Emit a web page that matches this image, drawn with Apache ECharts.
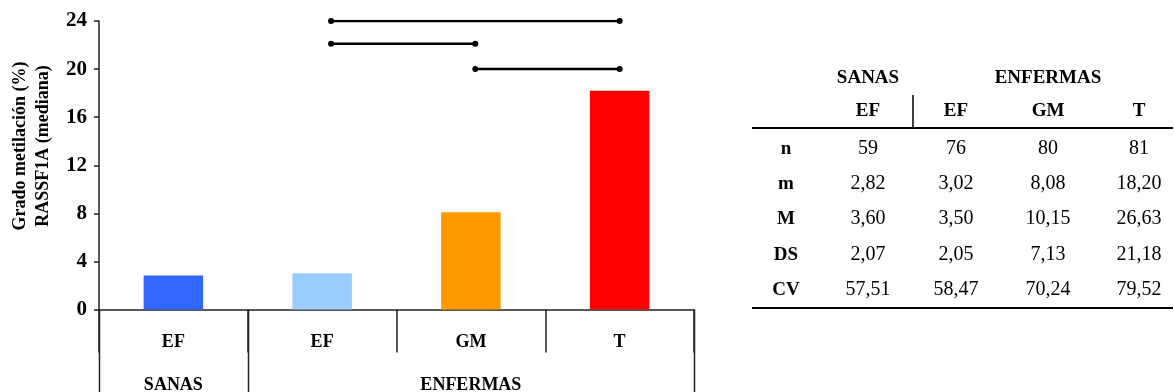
<!DOCTYPE html>
<html>
<head>
<meta charset="utf-8">
<script src="https://cdn.jsdelivr.net/npm/echarts@6/dist/echarts.min.js"></script>
<style>
  html, body { margin: 0; padding: 0; background: #fff; }
  #chart { width: 1174px; height: 392px; }
</style>
</head>
<body>
<div id="chart"></div>
<script>
// Subgroups shown as bars (labels under the axis)
const categories = ['EF', 'EF', 'GM', 'T'];
// Median methylation (%) per subgroup, also the "m" row of the table
const medians = [2.82, 3.02, 8.08, 18.20];
const barColors = ['#3366FF', '#99CCFF', '#FF9900', '#FF0000'];
// Group labels under the subgroups and how many subgroups each spans
const groupNames = ['SANAS', 'ENFERMAS'];
const groupSpans = [1, 3];
// Y axis ticks
const yMin = 0, yMax = 24, yStep = 4;
// Significance brackets: [from position, to position, level] on a 0..4 band scale
const brackets = [
  [1.56, 3.5, 24],
  [1.56, 2.53, 22.1],
  [2.53, 3.5, 20]
];
// Summary table
const tableHeaderGroups = ['SANAS', 'ENFERMAS'];
const tableColumns = ['EF', 'EF', 'GM', 'T'];
const tableRowLabels = ['n', 'm', 'M', 'DS', 'CV'];
const nValues = [59, 76, 80, 81];
const meanValues = [3.60, 3.50, 10.15, 26.63];
const sdValues = [2.07, 2.05, 7.13, 21.18];
const cvValues = [57.51, 58.47, 70.24, 79.52];

const SERIF = '"Liberation Serif", "Times New Roman", serif';
const fmt = v => v.toFixed(2).replace('.', ',');

const chart = echarts.init(document.getElementById('chart'), null, { renderer: 'canvas' });

const bracketSeries = brackets.map(b => ({
  type: 'line',
  xAxisIndex: 1,
  yAxisIndex: 0,
  data: [[b[0], b[2]], [b[1], b[2]]],
  symbol: 'circle',
  symbolSize: 6,
  itemStyle: { color: '#000' },
  lineStyle: { color: '#000', width: 2.5 },
  silent: true,
  animation: false,
  z: 5
}));

chart.setOption({
  animation: false,
  grid: { left: 99, right: 480, top: 21, bottom: 82.5, outerBoundsMode: 'none' },
  xAxis: [{
    type: 'category',
    data: categories,
    boundaryGap: true,
    axisLine: { lineStyle: { color: '#222', width: 1.5 } },
    axisTick: { show: true, alignWithLabel: false, length: 43, lineStyle: { color: '#222', width: 1.5 } },
    axisLabel: { margin: 24, color: '#000', fontFamily: SERIF, fontWeight: 'bold', fontSize: 18 }
  }, {
    type: 'value',
    min: 0, max: categories.length,
    show: false
  }],
  yAxis: {
    type: 'value',
    min: yMin, max: yMax, interval: yStep,
    splitLine: { show: false },
    axisLine: { show: true, lineStyle: { color: '#222', width: 1.5 } },
    axisTick: { show: true, length: 5, lineStyle: { color: '#222', width: 1.5 } },
    axisLabel: { margin: 12, color: '#000', fontFamily: SERIF, fontWeight: 'bold', fontSize: 21 }
  },
  series: [{
    type: 'bar',
    data: medians.map((v, i) => ({ value: v, itemStyle: { color: barColors[i] } })),
    barWidth: '40%',
    silent: true
  }].concat(bracketSeries)
});

// Frame below the axis: long group separators, group names, y-axis title and table
function buildGraphics() {
  const px = v => chart.convertToPixel({ xAxisIndex: 1 }, v);
  const yZero = chart.convertToPixel({ yAxisIndex: 0 }, 0);
  const H = chart.getHeight();
  const els = [];
  const lineStyle = { stroke: '#222', lineWidth: 1.5 };

  // group boundaries run to the bottom edge
  let start = 0;
  const bounds = [0];
  groupSpans.forEach(s => { start += s; bounds.push(start); });
  bounds.forEach(b => {
    const x = Math.round(px(b)) + 0.5;
    els.push({ type: 'line', shape: { x1: x, y1: yZero, x2: x, y2: H }, style: lineStyle, silent: true });
  });
  groupNames.forEach((name, i) => {
    const cx = (px(bounds[i]) + px(bounds[i + 1])) / 2;
    els.push({
      type: 'text', x: cx, y: 385, silent: true,
      style: { text: name, fill: '#000', fontFamily: SERIF, fontWeight: 'bold', fontSize: 18, align: 'center', verticalAlign: 'middle' }
    });
  });

  // y-axis title (two lines, rotated)
  els.push({
    type: 'text', x: 31.5, y: 146, rotation: Math.PI / 2, silent: true,
    style: {
      text: 'Grado metilación (%)\nRASSF1A (mediana)', fill: '#000', fontFamily: SERIF, fontWeight: 'bold',
      fontSize: 18, lineHeight: 23, align: 'center', verticalAlign: 'middle'
    }
  });

  // summary table
  const colX = [868, 956, 1048, 1139];
  const labelX = 786;
  const rowY = [149, 184, 219, 255, 290];
  const bold = { fill: '#000', fontFamily: SERIF, fontWeight: 'bold', fontSize: 19, align: 'center', verticalAlign: 'middle' };
  const plain = { fill: '#000', fontFamily: SERIF, fontSize: 20, align: 'center', verticalAlign: 'middle' };
  els.push({ type: 'text', x: colX[0], y: 78, silent: true, style: Object.assign({ text: tableHeaderGroups[0] }, bold) });
  els.push({ type: 'text', x: colX[2], y: 78, silent: true, style: Object.assign({ text: tableHeaderGroups[1] }, bold) });
  tableColumns.forEach((c, i) => {
    els.push({ type: 'text', x: colX[i], y: 111, silent: true, style: Object.assign({ text: c }, bold) });
  });
  els.push({ type: 'line', shape: { x1: 913, y1: 95, x2: 913, y2: 128 }, style: { stroke: '#000', lineWidth: 1.5 }, silent: true });
  els.push({ type: 'line', shape: { x1: 752, y1: 128, x2: 1173, y2: 128 }, style: { stroke: '#000', lineWidth: 2 }, silent: true });
  els.push({ type: 'line', shape: { x1: 752, y1: 308, x2: 1173, y2: 308 }, style: { stroke: '#000', lineWidth: 2 }, silent: true });

  const rows = [
    nValues.map(v => String(v)),
    medians.map(fmt),
    meanValues.map(fmt),
    sdValues.map(fmt),
    cvValues.map(fmt)
  ];
  tableRowLabels.forEach((lab, r) => {
    els.push({ type: 'text', x: labelX, y: rowY[r], silent: true, style: Object.assign({ text: lab }, bold) });
    rows[r].forEach((txt, c) => {
      els.push({ type: 'text', x: colX[c], y: rowY[r], silent: true, style: Object.assign({ text: txt }, plain) });
    });
  });

  chart.setOption({ graphic: { elements: els } });
}
buildGraphics();
</script>
</body>
</html>
